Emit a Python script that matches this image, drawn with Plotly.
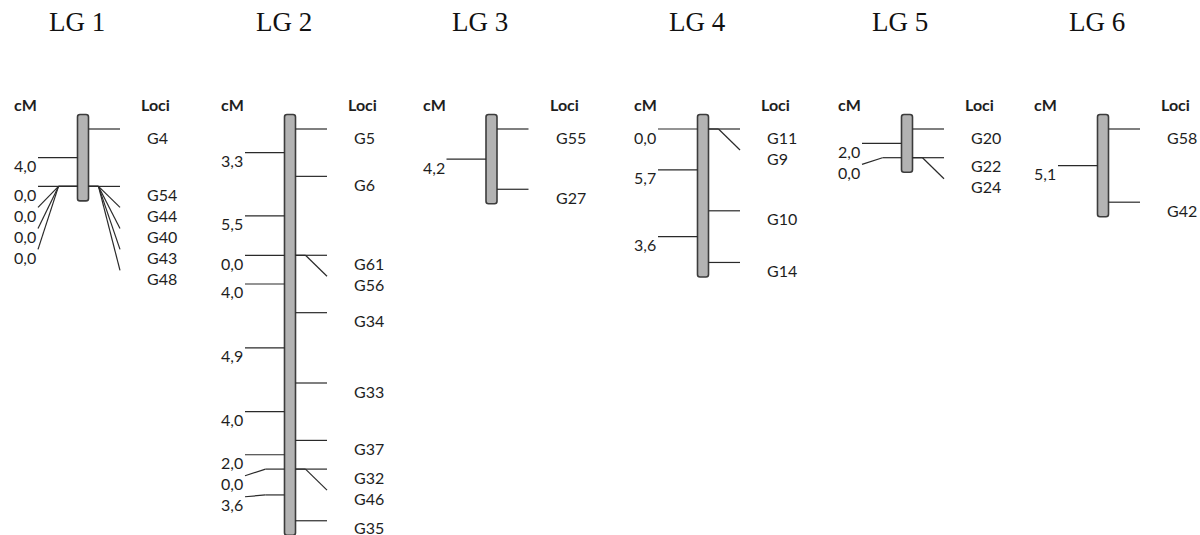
import plotly.graph_objects as go

# ---- linkage groups: loci in map order and the cM gap between neighbours ----
groups = ["LG 1", "LG 2", "LG 3", "LG 4", "LG 5", "LG 6"]

lg1_loci = ["G4", "G54", "G44", "G40", "G43", "G48"]
lg1_gaps = [4.0, 0.0, 0.0, 0.0, 0.0]

lg2_loci = ["G5", "G6", "G61", "G56", "G34", "G33", "G37", "G32", "G46", "G35"]
lg2_gaps = [3.3, 5.5, 0.0, 4.0, 4.9, 4.0, 2.0, 0.0, 3.6]

lg3_loci = ["G55", "G27"]
lg3_gaps = [4.2]

lg4_loci = ["G11", "G9", "G10", "G14"]
lg4_gaps = [0.0, 5.7, 3.6]

lg5_loci = ["G20", "G22", "G24"]
lg5_gaps = [2.0, 0.0]

lg6_loci = ["G58", "G42"]
lg6_gaps = [5.1]

all_loci = [lg1_loci, lg2_loci, lg3_loci, lg4_loci, lg5_loci, lg6_loci]
all_gaps = [lg1_gaps, lg2_gaps, lg3_gaps, lg4_gaps, lg5_gaps, lg6_gaps]

# ---- drawing geometry (page pixels horizontally, cM vertically) ----
W, H = 1200, 535
PX_PER_CM = 14.35          # vertical scale
TOP_PX = 129               # pixel row of 0 cM
BAR_X = [83, 290, 491.5, 703, 907, 1103]
TITLE_X = [77, 284, 480, 697, 900, 1097]
BAR_HALF = 5.5
BAR_PAD_PX = 14.5
TICK_OUT_R = 37
TICK_OUT_L = 45
KINK_R = 10
KINK_L = 19
LABEL_DROP = 8             # label centre below tick end
LABEL_STEP = 21            # min spacing between stacked labels

LINE_COLOR = "#2a2a2a"
TEXT_COLOR = "#1e1e1e"
LABEL_FONT = dict(family="Lato, 'Open Sans', sans-serif", size=16, color=TEXT_COLOR)
HEAD_FONT = dict(family="Lato, 'Open Sans', sans-serif", size=16, color=TEXT_COLOR, weight="bold")
TITLE_FONT = dict(family="'Liberation Serif', 'DejaVu Serif', serif", size=27, color="#111111")


def px2cm(px):
    return (px - TOP_PX) / PX_PER_CM


def cm2px(cm):
    return TOP_PX + cm * PX_PER_CM


def stack(naturals):
    """Place labels below their ticks, pushing down to avoid overlaps."""
    out = []
    prev = -1e9
    for nat in naturals:
        lab = max(nat + LABEL_DROP, prev + LABEL_STEP)
        out.append((nat, lab - LABEL_DROP, lab))
        prev = lab
    return out


fig = go.Figure()
shapes = []
annotations = []


def seg(x0, y0, x1, y1):
    shapes.append(dict(type="line", xref="x", yref="y",
                       x0=x0, y0=px2cm(y0), x1=x1, y1=px2cm(y1),
                       line=dict(color=LINE_COLOR, width=1.2)))


def text(x, ypx, s, font, anchor="left"):
    annotations.append(dict(x=x, y=px2cm(ypx), xref="x", yref="y", text=s,
                            showarrow=False, xanchor=anchor, yanchor="middle",
                            font=font))


for gi, (name, loci, gaps) in enumerate(zip(groups, all_loci, all_gaps)):
    bx = BAR_X[gi]
    pos_cm = [0.0]
    for g in gaps:
        pos_cm.append(pos_cm[-1] + g)
    pos_px = [cm2px(c) for c in pos_cm]

    # chromosome bar with rounded ends
    x0, x1 = bx - BAR_HALF, bx + BAR_HALF
    y0 = px2cm(pos_px[0] - BAR_PAD_PX)
    y1 = px2cm(pos_px[-1] + BAR_PAD_PX)
    r = 2.5
    ry = r / PX_PER_CM
    path = (f"M{x0 + r},{y0} L{x1 - r},{y0} Q{x1},{y0} {x1},{y0 + ry} "
            f"L{x1},{y1 - ry} Q{x1},{y1} {x1 - r},{y1} L{x0 + r},{y1} "
            f"Q{x0},{y1} {x0},{y1 - ry} L{x0},{y0 + ry} Q{x0},{y0} {x0 + r},{y0} Z")
    shapes.append(dict(type="path", xref="x", yref="y", path=path,
                       fillcolor="#b3b3b3", line=dict(color="#3c3c3c", width=1.6),
                       layer="above"))

    # loci on the right
    edge_r = bx + BAR_HALF
    out_r = bx + TICK_OUT_R
    for locus, (nat, end, lab) in zip(loci, stack(pos_px)):
        if end - nat > 0.5:
            seg(edge_r, nat, edge_r + KINK_R, nat)
            seg(edge_r + KINK_R, nat, out_r, end)
        else:
            seg(edge_r, nat, out_r, nat)
        text(bx + 62, min(lab, H - 8), locus, LABEL_FONT)

    # interval distances on the left
    edge_l = bx - BAR_HALF
    out_l = bx - TICK_OUT_L
    nat_l = [(pos_px[i] + pos_px[i + 1]) / 2 for i in range(len(gaps))]
    for g, (nat, end, lab) in zip(gaps, stack(nat_l)):
        if end - nat > 0.5:
            seg(edge_l, nat, edge_l - KINK_L, nat)
            seg(edge_l - KINK_L, nat, out_l, end)
        else:
            seg(edge_l, nat, out_l, nat)
        text(bx - 71, lab, f"{g:.1f}".replace(".", ","), LABEL_FONT)

    # headers and title
    text(bx - 71, 104, "cM", HEAD_FONT)
    text(bx + 56, 104, "Loci", HEAD_FONT)
    text(TITLE_X[gi], 22, name, TITLE_FONT, anchor="center")

fig.update_layout(
    width=W, height=H,
    margin=dict(l=0, r=0, t=0, b=0),
    paper_bgcolor="white", plot_bgcolor="white",
    showlegend=False,
    shapes=shapes, annotations=annotations,
    xaxis=dict(range=[0, W], visible=False, fixedrange=True),
    yaxis=dict(range=[px2cm(H), px2cm(0)], visible=False, fixedrange=True),
)

fig.write_html("out.html")
